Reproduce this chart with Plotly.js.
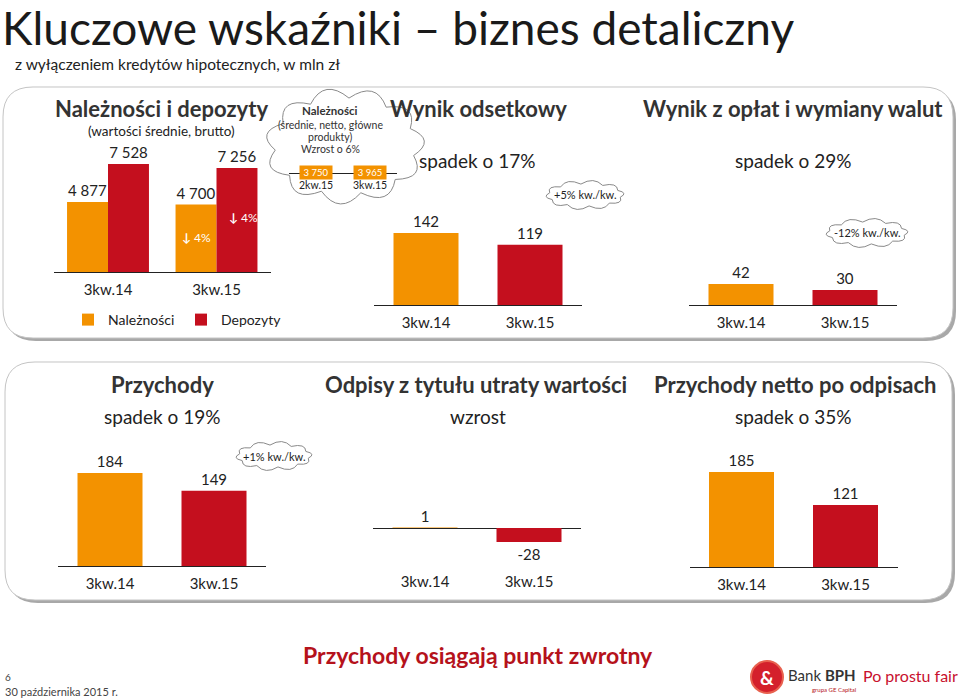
<!DOCTYPE html>
<html><head><meta charset="utf-8">
<script src="https://cdn.plot.ly/plotly-3.0.1.min.js"></script>
<style>html,body{margin:0;padding:0;background:#fff}#chart{width:960px;height:699px}</style>
</head><body><div id="chart"></div>
<script>
// ---- data ----
const quarters = ['3kw.14', '3kw.15'];
const naleznosci = [4877, 4700];
const depozyty = [7528, 7256];
const miniQuarters = ['2kw.15', '3kw.15'];
const miniNaleznosci = [3750, 3965];
const wynikOdsetkowy = [142, 119];
const wynikOplat = [42, 30];
const przychody = [184, 149];
const odpisy = [1, -28];
const przychodyNetto = [185, 121];

const ORANGE = '#F39200', RED = '#C40F1E';
const FONT = 'Lato, "Open Sans", sans-serif';
const W = 960, H = 699;
const X = px => px / W, Y = py => 1 - py / H;
const P = (x, y) => X(x).toFixed(5) + ',' + Y(y).toFixed(5);
const fmt = v => String(v).replace(/\B(?=(\d{3})+(?!\d))/g, ' ');

function yDom(base, ppu, ymin, ymax) {
  return [Y(base - ymin * ppu), Y(base - ymax * ppu)];
}
function rr(x0, y0, x1, y1, r) {
  return `M${P(x0 + r, y0)} L${P(x1 - r, y0)} Q${P(x1, y0)} ${P(x1, y0 + r)} L${P(x1, y1 - r)} Q${P(x1, y1)} ${P(x1 - r, y1)} L${P(x0 + r, y1)} Q${P(x0, y1)} ${P(x0, y1 - r)} L${P(x0, y0 + r)} Q${P(x0, y0)} ${P(x0 + r, y0)} Z`;
}
function cloud(cx, cy, rx, ry, n, b) {
  let s = '';
  for (let i = 0; i <= n; i++) {
    const t = 2 * Math.PI * i / n + 0.2;
    const pt = P(cx + rx * Math.cos(t), cy + ry * Math.sin(t));
    if (i === 0) { s += 'M' + pt; continue; }
    const tm = 2 * Math.PI * (i - 0.5) / n + 0.2;
    const c = P(cx + (rx + b) * Math.cos(tm), cy + (ry + b) * Math.sin(tm));
    s += ' Q' + c + ' ' + pt;
  }
  return s + ' Z';
}

const valFont = {family: FONT, size: 15, color: '#222'};
function barTrace(vals, xa, ya) {
  return {
    type: 'bar', x: quarters, y: vals, xaxis: xa, yaxis: ya,
    marker: {color: [ORANGE, RED]}, width: 0.625,
    texttemplate: '%{y:,}', textposition: 'outside', textfont: valFont,
    constraintext: 'none', cliponaxis: false, showlegend: false, hoverinfo: 'skip'
  };
}

const traces = [
  {type: 'bar', name: 'Należności', x: quarters, y: naleznosci, xaxis: 'x', yaxis: 'y',
   marker: {color: ORANGE}, texttemplate: '%{y:,}', textposition: 'outside', textfont: valFont,
   constraintext: 'none', cliponaxis: false, hoverinfo: 'skip'},
  {type: 'bar', name: 'Depozyty', x: quarters, y: depozyty, xaxis: 'x', yaxis: 'y',
   marker: {color: RED}, texttemplate: '%{y:,}', textposition: 'outside', textfont: valFont,
   constraintext: 'none', cliponaxis: false, hoverinfo: 'skip'},
  barTrace(wynikOdsetkowy, 'x2', 'y2'),
  barTrace(wynikOplat, 'x3', 'y3'),
  barTrace(przychody, 'x4', 'y4'),
  barTrace(odpisy, 'x5', 'y5'),
  barTrace(przychodyNetto, 'x6', 'y6'),
  {type: 'bar', x: miniQuarters, y: [0, 0], xaxis: 'x7', yaxis: 'y7', showlegend: false, hoverinfo: 'skip',
   marker: {color: ORANGE}}
];

const tickFont = {family: FONT, size: 15, color: '#222'};
function xax(x0, x1, showline, extra) {
  return Object.assign({domain: [X(x0), X(x1)], type: 'category', range: [-0.5, 1.5], showline: showline,
    linecolor: '#222', linewidth: 1, ticks: '', showgrid: false, zeroline: false, tickfont: tickFont,
    ticklabelstandoff: 4, fixedrange: true}, extra || {});
}
function yax(dom, range, xa) {
  return {domain: dom, range: range, visible: false, showgrid: false, zeroline: false, fixedrange: true, anchor: xa};
}

const layout = {
  width: W, height: H, margin: {l: 0, r: 0, t: 0, b: 0},
  paper_bgcolor: '#fff', plot_bgcolor: 'rgba(0,0,0,0)',
  barmode: 'group', bargap: 0.245, bargroupgap: 0,
  separators: ', ',
  font: {family: FONT, color: '#222'},
  showlegend: true,
  legend: {orientation: 'h', x: X(68), y: Y(320), xanchor: 'left', yanchor: 'middle',
           font: {family: FONT, size: 14, color: '#222'}, bgcolor: 'rgba(0,0,0,0)', itemwidth: 30,
           entrywidth: 68, entrywidthmode: 'pixels'},
  xaxis: xax(53.75, 270.75, true, {anchor: 'y'}),
  yaxis: yax(yDom(272, 0.01435, 0, 8000), [0, 8000], 'x'),
  xaxis2: xax(374, 582, true, {anchor: 'y2'}),
  yaxis2: yax(yDom(305, 0.507, 0, 150), [0, 150], 'x2'),
  xaxis3: xax(689, 897, true, {anchor: 'y3'}),
  yaxis3: yax(yDom(305, 0.5, 0, 60), [0, 60], 'x3'),
  xaxis4: xax(58, 266, true, {anchor: 'y4'}),
  yaxis4: yax(yDom(566, 0.505, 0, 190), [0, 190], 'x4'),
  xaxis5: xax(373, 581, false, {anchor: 'y5'}),
  yaxis5: Object.assign(yax(yDom(528, 0.5, -78, 20), [-78, 20], 'x5'),
    {visible: true, showticklabels: false, showline: false, ticks: '', zeroline: true, zerolinecolor: '#222', zerolinewidth: 1}),
  xaxis6: xax(689.5, 897.5, true, {anchor: 'y6'}),
  yaxis6: yax(yDom(567, 0.513, 0, 190), [0, 190], 'x6'),
  xaxis7: xax(289, 397, true, {anchor: 'y7', tickfont: {family: FONT, size: 10.5, color: '#222'}, ticklabelstandoff: 2}),
  yaxis7: yax([Y(173), Y(160)], [0, 1], 'x7'),
  shapes: [
    {type: 'path', path: rr(6, 90, 956, 341, 30), fillcolor: '#a8a8a8', line: {width: 0}, layer: 'below', xref: 'paper', yref: 'paper'},
    {type: 'path', path: rr(3, 87, 953, 338, 30), fillcolor: '#fff', line: {color: '#c4c4c4', width: 1}, layer: 'below', xref: 'paper', yref: 'paper'},
    {type: 'path', path: rr(8, 365, 955, 603, 30), fillcolor: '#a8a8a8', line: {width: 0}, layer: 'below', xref: 'paper', yref: 'paper'},
    {type: 'path', path: rr(5, 362, 952, 600, 30), fillcolor: '#fff', line: {color: '#c4c4c4', width: 1}, layer: 'below', xref: 'paper', yref: 'paper'},
    {type: 'path', path: cloud(345, 146, 70, 48, 11, 22), fillcolor: '#fff', line: {color: '#8a8a8a', width: 1}, layer: 'below', xref: 'paper', yref: 'paper'},
    {type: 'path', path: cloud(585, 195, 36, 11, 10, 8), fillcolor: '#fff', line: {color: '#8a8a8a', width: 1}, layer: 'below', xref: 'paper', yref: 'paper'},
    {type: 'path', path: cloud(867, 233, 38, 11, 10, 8), fillcolor: '#fff', line: {color: '#8a8a8a', width: 1}, layer: 'below', xref: 'paper', yref: 'paper'},
    {type: 'path', path: cloud(274, 456, 35, 11, 10, 8), fillcolor: '#fff', line: {color: '#8a8a8a', width: 1}, layer: 'below', xref: 'paper', yref: 'paper'},
    {type: 'circle', xref: 'paper', yref: 'paper', x0: X(751), x1: X(783), y0: Y(693), y1: Y(661), fillcolor: '#D4202C', line: {color: '#E8614F', width: 2}}
  ],
  annotations: []
};

function A(text, px, py, size, opts) {
  layout.annotations.push(Object.assign({text: text, x: X(px), y: Y(py), xref: 'paper', yref: 'paper',
    xanchor: 'center', yanchor: 'middle', showarrow: false,
    font: {family: FONT, size: size, color: '#222'}}, opts || {}));
}
const bold = {font: {family: FONT, size: 22, color: '#333', weight: 'bold'}};

A('Kluczowe wskaźniki – biznes detaliczny', 1, 27, 46, {xanchor: 'left', borderpad: 0, font: {family: FONT, size: 46, color: '#1a1a1a'}});
A('z wyłączeniem kredytów hipotecznych, w mln zł', 14, 64.5, 15.5, {xanchor: 'left', borderpad: 0, font: {family: FONT, size: 15.5, color: '#222'}});

A('<b>Należności i depozyty</b>', 161, 108, 22, bold);
A('(wartości średnie, brutto)', 161, 131, 13.5);
A('<b>↓</b> 4%', 196, 238, 12, {font: {family: FONT, size: 12, color: '#fff'}});
A('<b>↓</b> 4%', 243, 218, 12, {font: {family: FONT, size: 12, color: '#fff'}});

A('<b>Należności</b>', 330, 110, 11.5, {font: {family: FONT, size: 11.5, color: '#333'}});
A('(średnie, netto, główne', 330, 125, 10.5, {font: {family: FONT, size: 10.5, color: '#333'}});
A('produkty)', 330, 137, 10.5, {font: {family: FONT, size: 10.5, color: '#333'}});
A('Wzrost o 6%', 330, 149, 10.5, {font: {family: FONT, size: 10.5, color: '#333'}});
miniQuarters.forEach((q, i) => {
  layout.annotations.push({text: fmt(miniNaleznosci[i]),
    x: q, xref: 'x7', y: Y(165.5), yref: 'paper', showarrow: false, bgcolor: ORANGE,
    width: 32, height: 13, borderpad: 0, font: {family: FONT, size: 9.5, color: '#fff'}});
});

A('<b>Wynik odsetkowy</b>', 478, 109, 22, bold);
A('spadek o 17%', 477, 160, 19);
A('+5% kw./kw.', 585, 195, 11);

A('<b>Wynik z opłat i wymiany walut</b>', 793, 109, 22, bold);
A('spadek o 29%', 793, 160, 19);
A('-12% kw./kw.', 867, 233, 11);

A('<b>Przychody</b>', 162, 384, 22, bold);
A('spadek o 19%', 162, 416, 19);
A('+1% kw./kw.', 274, 456, 11);

A('<b>Odpisy z tytułu utraty wartości</b>', 476, 384, 22, bold);
A('wzrost', 478, 416, 19);

A('<b>Przychody netto po odpisach</b>', 795, 384, 22, bold);
A('spadek o 35%', 793, 416, 19);

A('<b>Przychody osiągają punkt zwrotny</b>', 478, 655, 23, {font: {family: FONT, size: 23, color: '#B5121B'}});
A('6', 3, 677, 10, {xanchor: 'left', font: {family: FONT, size: 10, color: '#444'}});
A('30 października 2015 r.', 3, 691, 11, {xanchor: 'left', font: {family: FONT, size: 11, color: '#444'}});
A('<b>&amp;</b>', 767, 677, 19, {font: {family: FONT, size: 19, color: '#fff'}});
A('Bank <b>BPH</b>', 786, 675, 15, {xanchor: 'left', font: {family: FONT, size: 15, color: '#333'}});
A('grupa GE Capital', 834, 689, 6, {font: {family: FONT, size: 6, color: '#B5121B'}});
A('Po prostu fair', 861, 675, 16, {xanchor: 'left', font: {family: FONT, size: 16, color: '#C8102E'}});

Plotly.newPlot('chart', traces, layout, {staticPlot: true, displayModeBar: false});
</script></body></html>
